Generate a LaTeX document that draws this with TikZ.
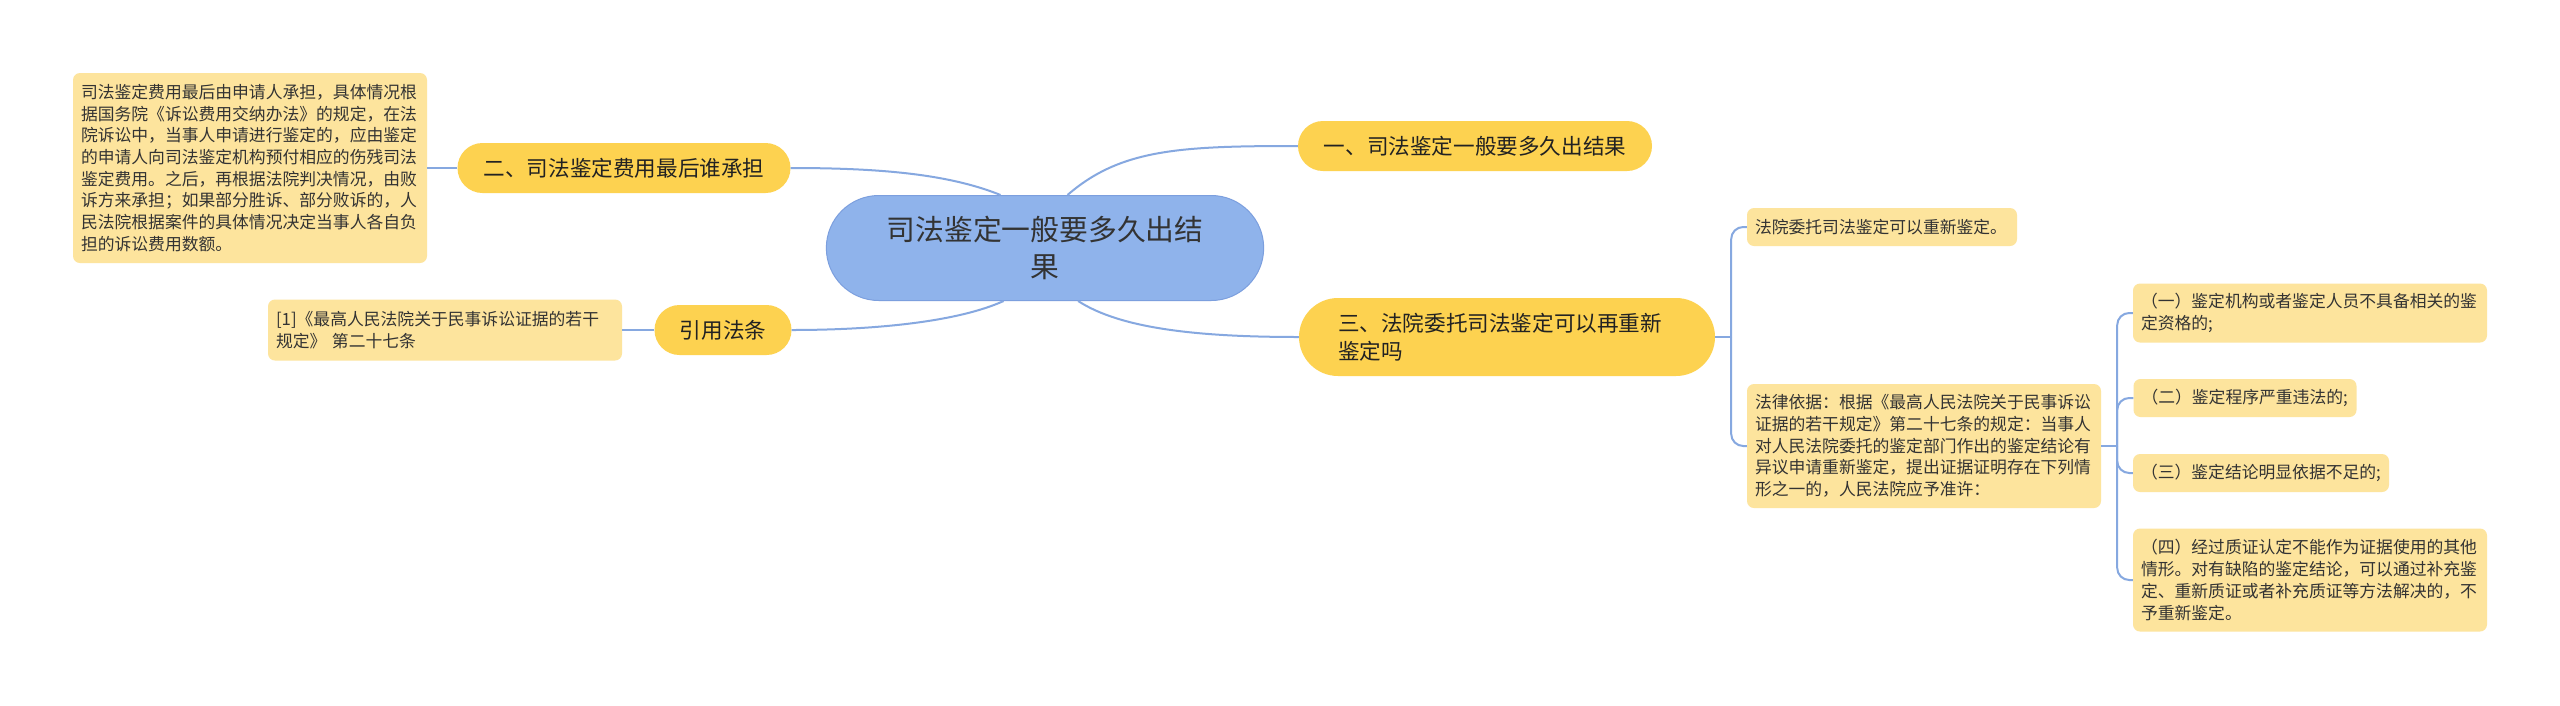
\documentclass[tikz,border=0pt]{standalone}
\usepackage{fontspec}
\newfontfamily\cjk{Noto Sans CJK SC}
\usetikzlibrary{calc}
\usetikzlibrary{shapes.misc}
\definecolor{rootblue}{HTML}{8FB3EB}
\definecolor{rootedge}{HTML}{7C9FDE}
\definecolor{topicgold}{HTML}{FDD250}
\definecolor{leafsand}{HTML}{FDE49D}
\definecolor{linkblue}{HTML}{86A8E0}
\definecolor{inkgray}{HTML}{333333}
\definecolor{inkdark}{HTML}{222222}
\tikzstyle{rootnode}=[rounded rectangle, fill=rootblue, draw=rootedge, line width=1pt, text=inkgray, align=center, minimum width=444pt, minimum height=105pt, font=\cjk\fontsize{28.8}{37}\selectfont]
\tikzstyle{topicnode}=[rounded rectangle, fill=topicgold, text=inkdark, align=left, minimum height=50pt, inner xsep=0pt, font=\cjk\fontsize{21.6}{28}\selectfont]
\tikzstyle{leafnode}=[rectangle, rounded corners=7pt, fill=leafsand, text=inkgray, align=left, inner xsep=8pt, inner ysep=0pt, font=\cjk\fontsize{16.8}{21.7}\selectfont]
\tikzstyle{link}=[draw=linkblue, line width=2pt]
\tikzstyle{forklink}=[link, rounded corners=12pt]
\newcommand{\drawfork}[3]{
\coordinate (#2) at ($(#1.east)+(16,0)$);
\draw[link] (#1.east) -- (#2);
  \foreach \kid in {#3} {
    \draw[forklink] (#2) |- (\kid.west);
  }
}

\begin{document}
\begin{tikzpicture}[x=1pt,y=-1pt]
  \useasboundingbox[fill=white] (0,0) rectangle (2560,705);
  % centre and main topics
  \node[rootnode] (root) at (1045,248) {司法鉴定一般要多久出结\\果};
  \node[topicnode, minimum width=354pt] (howlong) at (1475,146) {一、司法鉴定一般要多久出结果};
  \node[topicnode, minimum width=333pt] (whopays) at (624,168) {二、司法鉴定费用最后谁承担};
  \node[topicnode, minimum width=416pt, minimum height=78pt, text width=338pt] (again) at (1507,337) {三、法院委托司法鉴定可以再重新\\鉴定吗};
  \node[topicnode, minimum width=137pt] (cite) at (723,330) {引用法条};
  % leaves
  \node[leafnode, text width=338pt, minimum height=190pt] (fee) at (250,168) {司法鉴定费用最后由申请人承担，具体情况根\\据国务院《诉讼费用交纳办法》的规定，在法\\院诉讼中，当事人申请进行鉴定的，应由鉴定\\的申请人向司法鉴定机构预付相应的伤残司法\\鉴定费用。之后，再根据法院判决情况，由败\\诉方来承担；如果部分胜诉、部分败诉的，人\\民法院根据案件的具体情况决定当事人各自负\\担的诉讼费用数额。};
  \node[leafnode, text width=338pt, minimum height=61pt] (ref) at (445,330) {[1]《最高人民法院关于民事诉讼证据的若干\\规定》 第二十七条};
  \node[leafnode, text width=254pt, minimum height=38pt] (redo) at (1882,227) {法院委托司法鉴定可以重新鉴定。};
  \node[leafnode, text width=338pt, minimum height=124pt] (law) at (1924,446) {法律依据：根据《最高人民法院关于民事诉讼\\证据的若干规定》第二十七条的规定：当事人\\对人民法院委托的鉴定部门作出的鉴定结论有\\异议申请重新鉴定，提出证据证明存在下列情\\形之一的，人民法院应予准许：};
  \node[leafnode, text width=338pt, minimum height=59pt] (caseA) at (2310,313) {（一）鉴定机构或者鉴定人员不具备相关的鉴\\定资格的;};
  \node[leafnode, text width=207pt, minimum height=38pt] (caseB) at (2245,398) {（二）鉴定程序严重违法的;};
  \node[leafnode, text width=240pt, minimum height=38pt] (caseC) at (2261,473) {（三）鉴定结论明显依据不足的;};
  \node[leafnode, text width=338pt, minimum height=103pt] (caseD) at (2310,580) {（四）经过质证认定不能作为证据使用的其他\\情形。对有缺陷的鉴定结论，可以通过补充鉴\\定、重新质证或者补充质证等方法解决的，不\\予重新鉴定。};
  % connectors from the centre
  \draw[link] (root.67) .. controls +(53,-46) and +(-118,0) .. (howlong.west);
  \draw[link] (root.130) .. controls +(-52,-21) and +(89,0) .. (whopays.east);
  \draw[link] (root.232) .. controls +(-44,20) and +(88,0) .. (cite.east);
  \draw[link] (root.302) .. controls +(43,28) and +(-99,0) .. (again.west);
  \draw[link] (whopays.west) -- (fee.east);
  \draw[link] (cite.west) -- (ref.east);
  \drawfork{again}{forkA}{redo,law}
  \drawfork{law}{forkB}{caseA,caseB,caseC,caseD}
\end{tikzpicture}
\end{document}
